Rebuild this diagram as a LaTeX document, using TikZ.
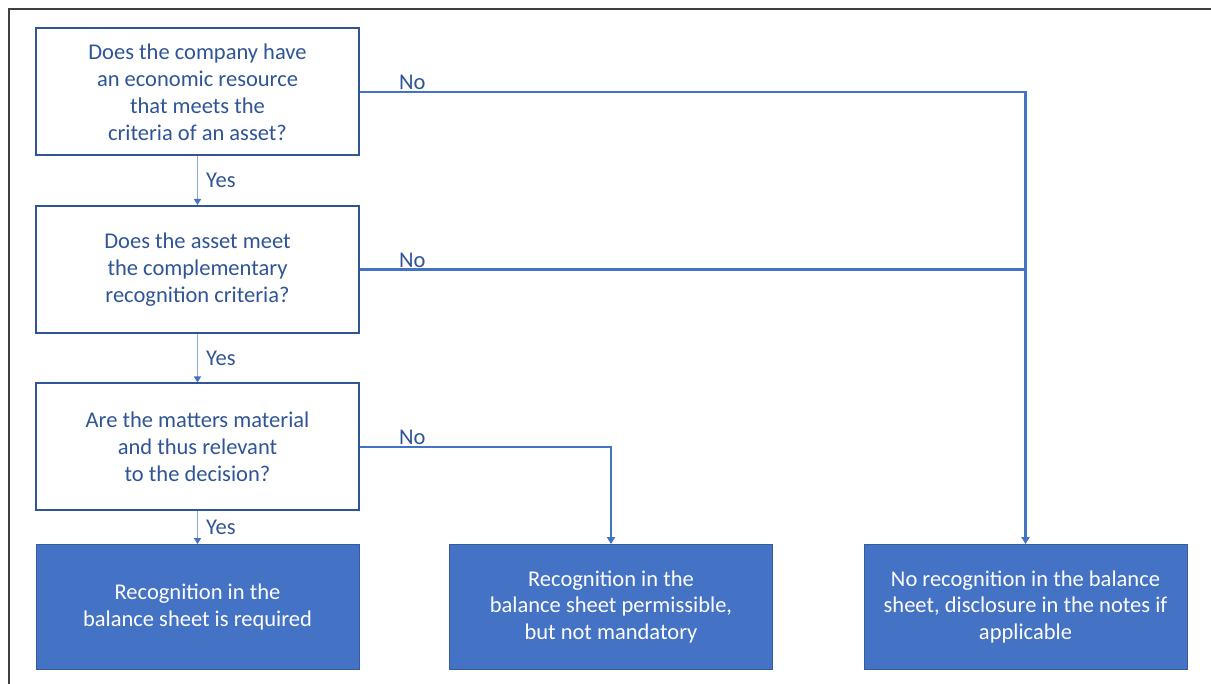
\documentclass[tikz,border=0pt]{standalone}
\usepackage{fontspec}
\setmainfont{Carlito}
\usepackage{tikz}
\usetikzlibrary{calc,positioning,arrows.meta}
\definecolor{qblue}{HTML}{2F5597}
\definecolor{rblue}{HTML}{4472C4}
\definecolor{yesblue}{HTML}{8FAADC}
\tikzset{
	question/.style={draw=qblue, line width=2pt, fill=white, text=qblue, minimum width=323pt, minimum height=127pt, align=center, font=\fontsize{22.5}{27}\selectfont},
	result/.style={draw=rblue!80!black, line width=0.8pt, fill=rblue, text=white, minimum width=323pt, minimum height=125pt, align=center, font=\fontsize{22.5}{27}\selectfont},
	yesline/.style={draw=yesblue, line width=1.4pt, -{Triangle[length=6pt,width=7pt,color=rblue]}},
	noline/.style={draw=rblue, line width=2.4pt},
	label/.style={text=qblue, inner sep=1pt, font=\fontsize{22.5}{24}\selectfont}
}

\begin{document}
\begin{tikzpicture}[x=1pt, y=-1pt]
	\useasboundingbox (0,0) rectangle (1211,684);
	\draw[black!75, line width=1.3pt] (9,684) -- (9,9) -- (1211,9);
	% questions
	\node[question] (q1) at (197.5,92) {Does the company have\\an economic resource\\that meets the\\criteria of an asset?};
	\node[question] (q2) at (197.5,269.5) {Does the asset meet\\the complementary\\recognition criteria?};
	\node[question] (q3) at (197.5,447) {Are the matters material\\and thus relevant\\to the decision?};
	% results
	\node[result] (r1) at (197.5,607) {Recognition in the\\balance sheet is required};
	\node[result] (r2) at (611,607) {Recognition in the\\balance sheet permissible,\\but not mandatory};
	\node[result] (r3) at (1025.5,607) {No recognition in the balance\\sheet, disclosure in the notes if\\applicable};
	% yes
	\foreach \fromNode/\toNode in {q1/q2, q2/q3, q3/r1}
	{
		\draw[yesline] (\fromNode.south) -- node[label, anchor=west, xshift=7pt] {Yes} (\toNode.north);
	}
	% no
	\draw[noline, -{Triangle[length=7pt,width=8pt]}] (q1.east) -- ++(37,0) node[label, anchor=south west] {No} -- (q1.east -| r3.north) -- (r3.north);
	\draw[noline] (q2.east) -- ++(37,0) node[label, anchor=south west] {No} -- (q2.east -| r3.north);
	\draw[noline, -{Triangle[length=7pt,width=8pt]}] (q3.east) -- ++(37,0) node[label, anchor=south west] {No} -- (q3.east -| r2.north) -- (r2.north);
\end{tikzpicture}
\end{document}
